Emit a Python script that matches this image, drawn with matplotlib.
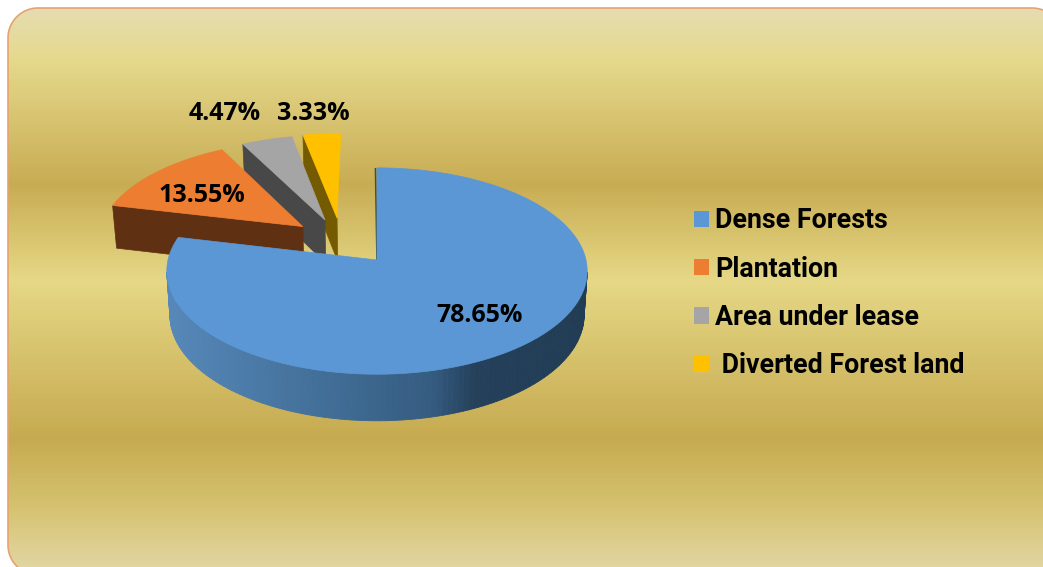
import numpy as np
import matplotlib
matplotlib.use('Agg')
import matplotlib.pyplot as plt
from matplotlib.colors import LinearSegmentedColormap
from matplotlib.patches import Polygon, Patch

# datos del grafico
categorias = ['Dense Forests', 'Plantation', 'Area under lease', ' Diverted Forest land']
valores = [78.65, 13.55, 4.47, 3.33]
etiquetas = ['78.65%', '13.55%', '4.47%', '3.33%']

# estilos
colores = ['#5B97D5', '#ED7D31', '#A5A5A5', '#FFC000']
colores_cara = ['#2F5878', '#5F3012', '#484848', '#745A00']
desplazamientos = [(0, 0), (-0.368, 0.34), (-0.26, 0.41), (-0.2, 0.43)]
pos_etiquetas = [(480, 315), (202, 195), (225, 113), (313, 113)]

cx, cy = 377, 260
rx, ry = 209, 102
persp = 0.107
alto = 44


def proyectar(X, Y):
    # perspectiva simple: lo de atras se ve mas chico
    s = 1 / (1 + persp * Y)
    return cx + rx * X * s, cy - ry * Y * s, s


def base(x, y, s):
    # punto de abajo del cilindro
    return cx + (x - cx) * 0.985, y + alto * np.sqrt(s)


def marco_redondeado(x0, y0, x1, y1, r):
    # polígono con esquinas redondeadas
    a = np.linspace(0, np.pi / 2, 30)
    esquinas = [
        np.c_[x0 + r - r * np.cos(a), y0 + r - r * np.sin(a)],
        np.c_[x1 - r + r * np.sin(a), y0 + r - r * np.cos(a)],
        np.c_[x1 - r + r * np.cos(a), y1 - r + r * np.sin(a)],
        np.c_[x0 + r - r * np.sin(a), y1 - r + r * np.cos(a)],
    ]
    return np.vstack(esquinas)


fig = plt.figure(figsize=(10.43, 5.67), dpi=100)
ax = fig.add_axes([0, 0, 1, 1])

# fondo con degradado
fondo = LinearSegmentedColormap.from_list('fondo', [
    (0.0, '#E6DCB0'), (0.09, '#E5D98C'), (0.31, '#C8AC53'), (0.48, '#E6D886'),
    (0.76, '#C6AA50'), (0.88, '#D5C26F'), (1.0, '#E3D8A6')])
grad = np.linspace(0, 1, 400).reshape(-1, 1)
im = ax.imshow(grad, cmap=fondo, extent=[8, 1062, 575, 8], aspect='auto', zorder=0)
marco = Polygon(marco_redondeado(8, 8, 1062, 575, 30), closed=True, facecolor='none',
                edgecolor='#E8A26F', linewidth=1.2, zorder=1)
ax.add_patch(marco)
im.set_clip_path(marco)
ax.set_xlim(0, 1043)
ax.set_ylim(567, 0)
ax.axis('off')

# angulos a partir de los valores (sentido horario desde arriba)
limites = np.radians(np.concatenate([[0], np.cumsum(valores)]) * 3.6)

# se dibuja de atras hacia adelante
for i in [3, 2, 1, 0]:
    t = np.linspace(limites[i], limites[i + 1], 200)
    ox, oy = desplazamientos[i]
    X = np.concatenate([[ox], ox + np.sin(t), [ox]])
    Y = np.concatenate([[oy], oy + np.cos(t), [oy]])
    x, y, s = proyectar(X, Y)

    if i == 0:
        # lateral del pastel grande con degradado segun x
        lateral = LinearSegmentedColormap.from_list('lateral', [
            (0.0, '#5688BA'), (0.33, '#44729C'), (0.64, '#355B80'),
            (0.74, '#25405B'), (1.0, '#213C55')])
        xa, ya, sa = x[1:-1], y[1:-1], s[1:-1]
        xb, yb = base(xa, ya, sa)
        for k in range(len(xa) - 1):
            if ya[k] < cy + 10 or ya[k + 1] < cy + 10:
                continue
            c = lateral((xa[k] - 166) / (588 - 166))
            ax.fill([xa[k], xa[k + 1], xb[k + 1], xb[k]], [ya[k], ya[k + 1], yb[k + 1], yb[k]],
                    color=c, linewidth=0.6, zorder=5)
        ax.plot([x[1] - 1.5, x[0]], [y[1] + 1, y[0]], color='#3C4F4A', linewidth=1.2, zorder=5)
    else:
        # cara del corte que se ve de frente
        xb, yb = base(x[:2], y[:2], s[:2])
        ax.fill([x[0], x[1], xb[1], xb[0]], [y[0], y[1], yb[1], yb[0]],
                color=colores_cara[i], linewidth=0.5, zorder=5)

    ax.fill(x, y, color=colores[i], linewidth=0.5, zorder=5)

for etiqueta, (px, py) in zip(etiquetas, pos_etiquetas):
    ax.text(px, py, etiqueta, family='Open Sans', fontweight='bold', fontsize=18,
            color='black', ha='center', va='center', zorder=6)

# leyenda
handles = [Patch(color=c, linewidth=0) for c in colores]
ax.legend(handles, categorias, loc='upper left', bbox_to_anchor=(693.5, 207.5),
          bbox_transform=ax.transData, frameon=False, borderpad=0, borderaxespad=0,
          handlelength=0.56, handleheight=0.56, handletextpad=0.26, labelspacing=0.79,
          prop={'family': 'Roboto', 'weight': 'bold', 'size': 19.3})

fig.savefig('out.png', dpi=100, facecolor='white')
